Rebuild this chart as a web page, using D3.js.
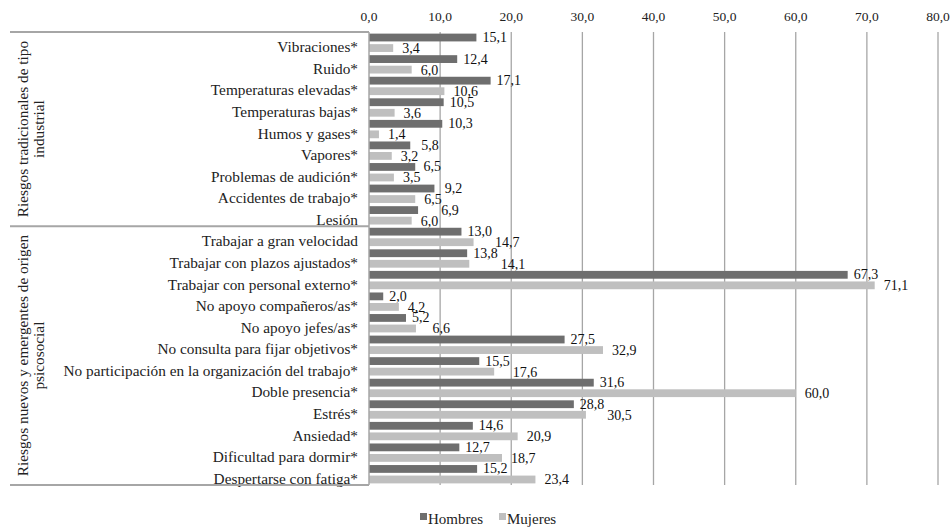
<!DOCTYPE html>
<html><head><meta charset="utf-8">
<script src="https://cdn.jsdelivr.net/npm/d3@7"></script>
<style>
html,body{margin:0;padding:0;background:#fff;}
svg{display:block;}
</style></head>
<body><svg id="c" width="951" height="528"></svg>
<script>
const categories = [
  "Vibraciones*","Ruido*","Temperaturas elevadas*","Temperaturas bajas*","Humos y gases*",
  "Vapores*","Problemas de audición*","Accidentes de trabajo*","Lesión",
  "Trabajar a gran velocidad","Trabajar con plazos ajustados*","Trabajar con personal externo*",
  "No apoyo compañeros/as*","No apoyo jefes/as*","No consulta para fijar objetivos*",
  "No participación en la organización del trabajo*","Doble presencia*","Estrés*","Ansiedad*",
  "Dificultad para dormir*","Despertarse con fatiga*"
];
const hombres = [15.1,12.4,17.1,10.5,10.3,5.8,6.5,9.2,6.9,13.0,13.8,67.3,2.0,5.2,27.5,15.5,31.6,28.8,14.6,12.7,15.2];
const mujeres = [3.4,6.0,10.6,3.6,1.4,3.2,3.5,6.5,6.0,14.7,14.1,71.1,4.2,6.6,32.9,17.6,60.0,30.5,20.9,18.7,23.4];
const seriesNames = ["Hombres","Mujeres"];
const seriesColors = ["#6e6e6e","#bfbfbf"];
const groups = [
  {lines:["Riesgos tradicionales de tipo","industrial"], from:0, to:8},
  {lines:["Riesgos nuevos y emergentes de origen","psicosocial"], from:9, to:20}
];
const xTicks = [0,10,20,30,40,50,60,70,80];

(function(){
const FONT = "Liberation Serif";
const fmt = v => d3.format(".1f")(v).replace(".", ",");
const svg = d3.select("#c").attr("font-family", FONT);
const pTop = 32, pBottom = 485, pLeft = 369, pRight = 938;

const x = d3.scaleLinear().domain([0,80]).range([pLeft,pRight]);
const y = d3.scaleBand().domain(categories).range([pTop,pBottom]).paddingInner(0.15).paddingOuter(0.075);
const ys = d3.scaleBand().domain(seriesNames).range([0,y.bandwidth()]).paddingInner(0.26);
const step = (pBottom-pTop)/categories.length;
const bandTop = i => pTop + i*step;

svg.append("g").selectAll("line").data(xTicks.slice(1)).join("line")
  .attr("x1",d=>x(d)).attr("x2",d=>x(d)).attr("y1",pTop).attr("y2",pBottom)
  .attr("stroke","#a6a6a6").attr("stroke-width",1.3);

svg.append("g").selectAll("text").data(xTicks).join("text")
  .attr("font-family",FONT)
  .attr("x",d=>x(d)).attr("y",21).attr("text-anchor","middle")
  .attr("font-size",13.5).attr("fill","#222").text(d=>fmt(d));

const data = categories.map((c,i)=>({c, vals:[hombres[i],mujeres[i]]}));
const rows = svg.append("g").selectAll("g").data(data).join("g")
  .attr("transform",d=>`translate(0,${y(d.c)})`);
rows.selectAll("rect").data(d=>d.vals.map((v,k)=>({v,k}))).join("rect")
  .attr("x",x(0)).attr("y",d=>ys(seriesNames[d.k]))
  .attr("width",d=>x(d.v)-x(0)).attr("height",ys.bandwidth())
  .attr("fill",d=>seriesColors[d.k]);

// value labels: outside end, with the larger label shifted right if the two collide
rows.each(function(d){
  const g = d3.select(this);
  const off = [6,9], dy = [0,0.5];
  const ts = d.vals.map((v,k)=>g.append("text")
    .attr("font-family",FONT)
    .attr("x",x(v)+off[k])
    .attr("y",ys(seriesNames[k])+ys.bandwidth()/2+dy[k])
    .attr("dominant-baseline","central")
    .attr("font-size",14).attr("fill","#111").text(fmt(v)));
  const xs = d.vals.map((v,k)=>x(v)+off[k]);
  const ws = ts.map(t=>t.node().getComputedTextLength());
  const big = d.vals[0] >= d.vals[1] ? 0 : 1, small = 1-big;
  if (xs[big] < xs[small] + ws[small] + 1) {
    ts[big].attr("x", xs[small] + ws[small] + 3);
  }
});

svg.append("line").attr("x1",pLeft).attr("x2",pLeft).attr("y1",pTop).attr("y2",pBottom)
  .attr("stroke","#a6a6a6").attr("stroke-width",1.5);

svg.append("g").selectAll("text").data(categories).join("text")
  .attr("font-family",FONT)
  .attr("x",pLeft-11).attr("y",d=>y(d)+y.bandwidth()/2+4)
  .attr("dominant-baseline","central").attr("text-anchor","end")
  .attr("font-size",15.3).attr("fill","#222").text(d=>d);

const sepY = [0,9,21].map(i=>bandTop(i));
svg.append("g").selectAll("line").data(sepY).join("line")
  .attr("x1",10).attr("x2",pLeft).attr("y1",d=>d).attr("y2",d=>d)
  .attr("stroke","#a6a6a6").attr("stroke-width",2);

groups.forEach(g=>{
  const cy = (bandTop(g.from)+bandTop(g.to+1))/2;
  const t = svg.append("text").attr("font-family",FONT)
    .attr("transform",`translate(23,${cy}) rotate(-90)`)
    .attr("text-anchor","middle").attr("font-size",15.3).attr("fill","#222");
  g.lines.forEach((l,i)=>t.append("tspan").attr("x",0).attr("dy",i===0?"0.3em":"16").text(l));
});

const lg = svg.append("g");
const legX = [420,499];
seriesNames.forEach((s,i)=>{
  lg.append("rect").attr("x",legX[i]).attr("y",513).attr("width",7).attr("height",7).attr("fill",seriesColors[i]);
  lg.append("text").attr("font-family",FONT).attr("x",legX[i]+8).attr("y",524)
    .attr("font-size",15).attr("fill","#222").text(s);
});
})();
</script></body></html>
